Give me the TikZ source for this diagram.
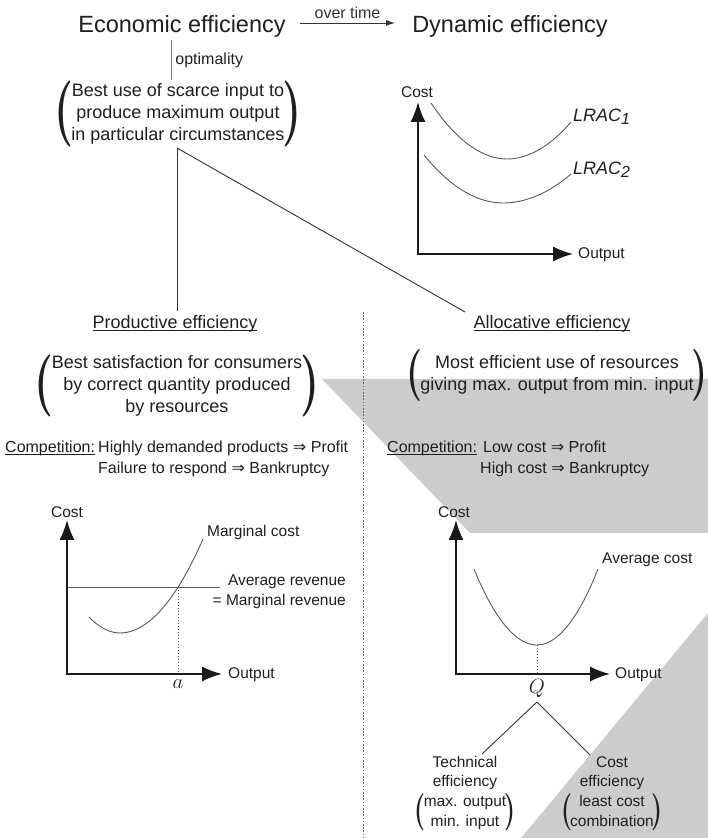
\documentclass[tikz,border=0pt]{standalone}
\usepackage{fontspec}
\usepackage{graphicx}
\setmainfont{Liberation Sans}
\newfontfamily\arrowfont{DejaVu Sans}
\newfontfamily\parenfont{lmroman10-bold.otf}
\usetikzlibrary{arrows.meta}
\newcommand{\thenarrow}{{\arrowfont ⇒}}
\newcommand{\ulined}[1]{\underline{\smash{#1}}}
% tall round brackets: height, width, lines
\newcommand{\bracketed}[3]{$\vcenter{\hbox{\resizebox*{#2}{#1}{\parenfont(}}}%
  \begin{tabular}{@{\hspace{-2bp}}c@{\hspace{-2bp}}}#3\end{tabular}%
  \vcenter{\hbox{\resizebox*{#2}{#1}{\parenfont)}}}$}
\tikzset{
  headtext/.style={font=\fontsize{23.5bp}{26bp}\selectfont},
  bodytext/.style={font=\fontsize{18bp}{22bp}\selectfont},
  notetext/.style={font=\fontsize{16bp}{21bp}\selectfont},
  charttext/.style={font=\fontsize{15.5bp}{19.5bp}\selectfont},
  mathtext/.style={font=\fontsize{21bp}{21bp}\selectfont},
  axisline/.style={line width=1.6bp,black!90,line join=miter,
    {Latex[length=20bp,width=15bp]}-{Latex[length=20bp,width=15bp]}},
  costcurve/.style={line width=0.9bp,black!65},
  guideline/.style={black!70,line width=0.6bp,dash pattern=on 1.5bp off 1.5bp},
  treeline/.style={black!80,line width=0.9bp},
  shadearea/.style={fill=black!20,draw=none},
}
\begin{document}
\begin{tikzpicture}[inner sep=0pt,text=black!88]
\useasboundingbox (0bp,0bp) rectangle (708bp,838bp);
%%
\fill [shadearea] (322bp,459bp) -- (708bp,459bp) -- (708bp,305bp) -- (470bp,305bp) -- cycle;
\fill [shadearea] (708bp,225bp) -- (708bp,0bp) -- (521bp,0bp) -- cycle;
  \node (econ_eff) at (182bp,812bp) [headtext] {Economic efficiency};
  \node (dyn_eff) at (510bp,812bp) [headtext] {Dynamic efficiency};
  \coordinate (time_a) at (300bp,815bp);
  \coordinate (time_b) at (395bp,815bp);
  \coordinate (opt_top) at (171bp,798bp);
  \coordinate (opt_bot) at (171bp,758bp);
  \node (best_use) at (178bp,724bp) [bodytext] {\bracketed{66bp}{19bp}{Best use of scarce input to\\produce maximum output\\in particular circumstances}};
  \coordinate (best_use_foot) at (177bp,690bp);
  \coordinate (prod_top) at (177bp,527bp);
  \coordinate (alloc_top) at (465bp,526bp);
  \node (prod_eff) at (175bp,509bp) [bodytext,anchor=base] {\ulined{Productive efficiency}};
  \node (alloc_eff) at (552bp,509bp) [bodytext,anchor=base] {\ulined{Allocative efficiency}};
  \node (prod_def) at (177bp,452bp) [bodytext] {\bracketed{62bp}{19bp}{Best satisfaction for consumers\\by correct quantity produced\\by resources}};
  \node (alloc_def) at (557bp,463bp) [bodytext] {\bracketed{52bp}{16bp}{Most efficient use of resources\\giving max. output from min. input}};
  \node (prod_comp) at (5bp,385bp) [notetext,anchor=base west] {\ulined{Competition:}};
  \node (prod_comp1) at (98bp,385bp) [notetext,anchor=base west] {Highly demanded products \thenarrow{} Profit};
  \node (prod_comp2) at (98bp,364bp) [notetext,anchor=base west] {Failure to respond \thenarrow{} Bankruptcy};
  \node (alloc_comp) at (387bp,385bp) [notetext,anchor=base west] {\ulined{Competition:}};
  \node (alloc_comp1) at (483bp,385bp) [notetext,anchor=base west] {Low cost \thenarrow{} Profit};
  \node (alloc_comp2) at (480bp,364bp) [notetext,anchor=base west] {High cost \thenarrow{} Bankruptcy};
  \coordinate (sep_top) at (363bp,526bp);
  \coordinate (sep_bot) at (363bp,0bp);
  % dynamic chart
  \coordinate (dyn_o) at (418bp,584bp);
  \coordinate (dyn_y) at (418bp,736bp);
  \coordinate (dyn_x) at (573bp,584bp);
  \node (dyn_cost) at (417bp,746bp) [charttext] {Cost};
  \node (dyn_out) at (578bp,583bp) [charttext,anchor=west] {Output};
  \node (lrac1) at (573bp,716bp) [bodytext,anchor=base west] {\itshape LRAC\raisebox{-3bp}{\fontsize{16bp}{16bp}\selectfont 1}};
  \node (lrac2) at (573bp,663bp) [bodytext,anchor=base west] {\itshape LRAC\raisebox{-3bp}{\fontsize{16bp}{16bp}\selectfont 2}};
  % productive chart
  \coordinate (mc_o) at (67bp,164bp);
  \coordinate (mc_y) at (67bp,318bp);
  \coordinate (mc_x) at (222bp,164bp);
  \coordinate (ar_a) at (67bp,251bp);
  \coordinate (ar_b) at (220bp,251bp);
  \coordinate (mc_cross) at (178bp,251bp);
  \coordinate (mc_foot) at (178bp,164bp);
  \node (mc_cost) at (67bp,326bp) [charttext] {Cost};
  \node (mc_out) at (228bp,163bp) [charttext,anchor=west] {Output};
  \node (mc_label) at (207bp,301bp) [charttext,anchor=base west] {Marginal cost};
  \node (ar_label1) at (346bp,252bp) [charttext,anchor=base east] {Average revenue};
  \node (ar_label2) at (346bp,232bp) [charttext,anchor=base east] {= Marginal revenue};
  \node (mc_a) at (178bp,154bp) [mathtext] {$a$};
  % allocative chart
  \coordinate (ac_o) at (456bp,164bp);
  \coordinate (ac_y) at (456bp,318bp);
  \coordinate (ac_x) at (610bp,164bp);
  \coordinate (ac_min) at (537bp,193bp);
  \coordinate (ac_foot) at (537bp,164bp);
  \node (ac_cost) at (454bp,326bp) [charttext] {Cost};
  \node (ac_out) at (615bp,163bp) [charttext,anchor=west] {Output};
  \node (ac_label) at (602bp,274bp) [charttext,anchor=base west] {Average cost};
  \node (ac_q) at (537bp,150bp) [mathtext] {$Q$};
  \coordinate (q_apex) at (537bp,136bp);
  \coordinate (tech_top) at (482bp,84bp);
  \coordinate (costeff_top) at (590bp,83bp);
  \node (tech_eff) at (465bp,65bp) [charttext,align=center] {Technical\\efficiency};
  \node (tech_def) at (465bp,25.5bp) [charttext] {\bracketed{37bp}{11bp}{max. output\\min. input}};
  \node (cost_eff) at (612bp,65bp) [charttext,align=center] {Cost\\efficiency};
  \node (cost_def) at (612bp,25.5bp) [charttext] {\bracketed{37bp}{11bp}{least cost\\combination}};
  \draw [treeline,-{Latex[length=9bp,width=6bp]}] (time_a) -- node [above=4bp,notetext] {over time} (time_b);
  \draw [treeline,black!55] (opt_top) -- node [right=4bp,notetext,text=black!88] {optimality} (opt_bot);
  \draw [treeline] (best_use_foot) -- (prod_top);
  \draw [treeline] (best_use_foot) -- (alloc_top);
  \draw [black!60,line width=0.8bp,dash pattern=on 1.6bp off 1.6bp] (sep_top) -- (sep_bot);
  \draw [axisline] (dyn_y) -- (dyn_o) -- (dyn_x);
  \draw [costcurve] (431bp,735bp) parabola bend (507bp,679bp) (571bp,716bp);
  \draw [costcurve] (424bp,683bp) parabola bend (503bp,635bp) (571bp,664bp);
  \draw [costcurve] (ar_a) -- (ar_b);
  \draw [axisline] (mc_y) -- (mc_o) -- (mc_x);
  \draw [costcurve] (89bp,221bp) parabola bend (120bp,205bp) (203bp,299bp);
  \draw [guideline] (mc_cross) -- (mc_foot);
  \draw [axisline] (ac_y) -- (ac_o) -- (ac_x);
  \draw [costcurve] (474bp,269bp) parabola bend (ac_min) (598bp,269bp);
  \draw [guideline] (ac_min) -- (ac_foot);
  \draw [treeline] (q_apex) -- (tech_top);
  \draw [treeline] (q_apex) -- (costeff_top);
%
\end{tikzpicture}
\end{document}
